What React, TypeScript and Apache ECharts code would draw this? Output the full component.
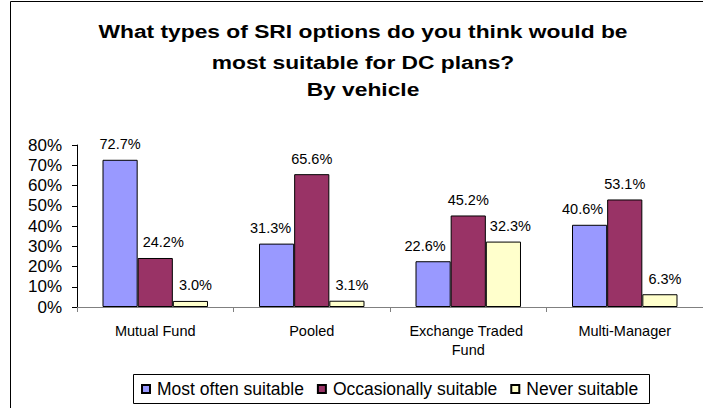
import React, { useEffect, useRef } from "react";
import * as echarts from "echarts";

const categories = ["Mutual Fund", "Pooled", "Exchange Traded Fund", "Multi-Manager"];
const seriesNames = ["Most often suitable", "Occasionally suitable", "Never suitable"];
const mostOften = [72.7, 31.3, 22.6, 40.6];
const occasionally = [24.2, 65.6, 45.2, 53.1];
const never = [3.0, 3.1, 32.3, 6.3];
const yTicks = [0, 10, 20, 30, 40, 50, 60, 70, 80];
const titleLines = [
  "What types of SRI options do you think would be",
  "most suitable for DC plans?",
  "By vehicle",
];
const colors = ["#9999FF", "#993366", "#FFFFCC"];

const FONT = "'Liberation Sans', Arial, sans-serif";
const TITLE_Y = [31, 62, 89.5];
// horizontal nudges of the value labels (style only), as in the reference
const LABEL_DX = [
  [0, -6, -8, -7],
  [8, 0, 0, 0],
  [5, 5, 7, 5],
];

export default function App() {
  const ref = useRef<HTMLDivElement>(null);
  useEffect(() => {
    document.body.style.margin = "0";
    const chart = echarts.init(ref.current!, null, { renderer: "svg" });
    const values = [mostOften, occasionally, never];
    chart.setOption({
      animation: false,
      backgroundColor: "#ffffff",
      textStyle: { fontFamily: FONT },
      graphic: [
        {
          type: "rect",
          shape: { x: 10.5, y: 1.5, width: 720, height: 420 },
          style: { fill: "none", stroke: "#000", lineWidth: 1 },
          silent: true,
        },
        {
          type: "rect",
          shape: { x: 133.5, y: 374.5, width: 516, height: 29 },
          style: { fill: "none", stroke: "#000", lineWidth: 1 },
          silent: true,
        },
        ...titleLines.map((t, i) => ({
          type: "text",
          x: 363,
          y: TITLE_Y[i],
          scaleX: 1.2,
          silent: true,
          style: {
            text: t,
            x: 0,
            y: 0,
            align: "center",
            verticalAlign: "middle",
            fontFamily: FONT,
            fontSize: 19,
            fontWeight: "bold",
            fill: "#000",
          },
        })),
      ],
      legend: {
        data: seriesNames,
        left: 141,
        top: 380,
        padding: 0,
        itemWidth: 8,
        itemHeight: 8,
        itemGap: 13,
        icon: "rect",
        textStyle: { fontFamily: FONT, fontSize: 17.5, color: "#000", padding: [0, 0, 0, 2] },
      },
      grid: { left: 77, top: 145, width: 629, height: 162 },
      xAxis: {
        type: "category",
        data: categories,
        axisLine: { lineStyle: { color: "#808080", width: 1 } },
        axisTick: { show: true, alignWithLabel: false, length: 5, lineStyle: { color: "#808080" } },
        axisLabel: {
          fontFamily: FONT,
          fontSize: 14.5,
          color: "#000",
          margin: 14,
          width: 125,
          overflow: "break",
          lineHeight: 19,
          interval: 0,
        },
      },
      yAxis: {
        type: "value",
        min: yTicks[0],
        max: yTicks[yTicks.length - 1],
        interval: 10,
        axisLine: { show: true, lineStyle: { color: "#000", width: 1 } },
        axisTick: { show: true, length: 5, lineStyle: { color: "#000" } },
        splitLine: { show: false },
        axisLabel: {
          fontFamily: FONT,
          fontSize: 17,
          color: "#000",
          margin: 15,
          formatter: (v: number) => `${v}%`,
        },
      },
      series: seriesNames.map((name, i) => ({
        name,
        type: "bar",
        data: values[i].map((v, j) => ({
          value: v,
          label: { offset: [LABEL_DX[i][j], 0] },
        })),
        barGap: "0%",
        barCategoryGap: "32.6%",
        itemStyle: { color: colors[i], borderColor: "#000", borderWidth: 1 },
        label: {
          show: true,
          position: "top",
          distance: 8,
          fontFamily: FONT,
          fontSize: 14.5,
          color: "#000",
          formatter: (p: any) => `${Number(p.value).toFixed(1)}%`,
        },
      })),
    });
    return () => chart.dispose();
  }, []);
  return <div ref={ref} style={{ width: 703, height: 408 }} />;
}
